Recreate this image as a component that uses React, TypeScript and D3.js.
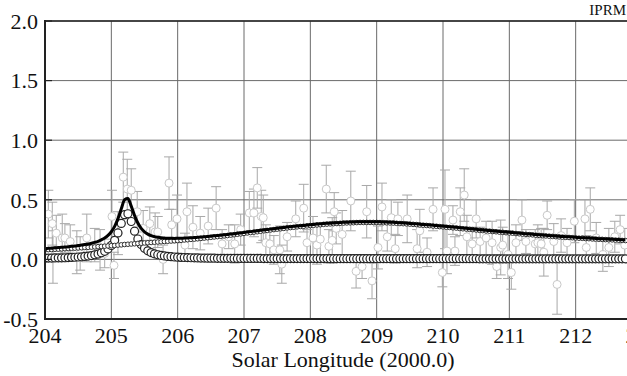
import React from "react";
import * as d3 from "d3";

// ---- data ----
const xTicks = [204, 205, 206, 207, 208, 209, 210, 211, 212, 213];
const yTicks = [-0.5, 0.0, 0.5, 1.0, 1.5, 2.0];
const yTickLabels = ["-0.5", "0.0", "0.5", "1.0", "1.5", "2.0"];

// model grid: 204.00 .. 212.75 step 0.05
const modelStart = 204.0;
const modelStep = 0.05;

// sharp (outburst) component
const sharpComp = [
  0.010, 0.011, 0.011, 0.012, 0.013, 0.013, 0.014, 0.015, 0.017, 0.018,
  0.020, 0.022, 0.025, 0.028, 0.032, 0.038, 0.045, 0.055, 0.068, 0.088,
  0.117, 0.160, 0.222, 0.302, 0.375, 0.383, 0.318, 0.237, 0.171, 0.124,
  0.093, 0.072, 0.057, 0.047, 0.039, 0.033, 0.029, 0.025, 0.023, 0.020,
  0.019, 0.017, 0.016, 0.015, 0.014, 0.013, 0.012, 0.011, 0.011, 0.010,
  0.010,
  0.010, 0.009, 0.009, 0.009, 0.009, 0.009, 0.008, 0.008, 0.008, 0.008,
  0.008, 0.008, 0.008, 0.008, 0.008, 0.007, 0.007, 0.007, 0.007, 0.007,
  0.007, 0.007, 0.007, 0.007, 0.007, 0.007, 0.007, 0.007, 0.007, 0.007,
  0.007, 0.007, 0.007, 0.007, 0.007, 0.006, 0.006, 0.006, 0.006, 0.006,
  0.006, 0.006, 0.006, 0.006, 0.006, 0.006, 0.006, 0.006, 0.006, 0.006,
  0.006, 0.006, 0.006, 0.006, 0.006, 0.006, 0.006, 0.006, 0.006, 0.006,
  0.006, 0.006, 0.006, 0.006, 0.006, 0.006, 0.006, 0.006, 0.006, 0.006,
  0.006, 0.006, 0.006, 0.006, 0.006, 0.006, 0.006, 0.006, 0.006, 0.006,
  0.005, 0.005, 0.005, 0.005, 0.005, 0.005, 0.005, 0.005, 0.005, 0.005,
  0.005, 0.005, 0.005, 0.005, 0.005, 0.005, 0.005, 0.005, 0.005, 0.005,
  0.005, 0.005, 0.005, 0.005, 0.005, 0.005, 0.005, 0.005, 0.005, 0.005,
  0.005, 0.005, 0.005, 0.005, 0.005, 0.005, 0.005, 0.005, 0.005, 0.005,
  0.005, 0.005, 0.005, 0.005, 0.005,
];

// broad (background) component
const broadComp = [
  0.080, 0.082, 0.083, 0.085, 0.086, 0.088, 0.090, 0.091, 0.093, 0.094,
  0.096, 0.098, 0.100, 0.101, 0.103, 0.105, 0.107, 0.109, 0.111, 0.113,
  0.115, 0.117, 0.120, 0.122, 0.125, 0.127, 0.129, 0.131, 0.134, 0.136,
  0.138, 0.140, 0.142, 0.144, 0.146, 0.148, 0.150, 0.152, 0.154, 0.156,
  0.158, 0.160, 0.163, 0.165, 0.168, 0.170, 0.173, 0.176, 0.179, 0.182,
  0.185, 0.188, 0.191, 0.194, 0.197, 0.200, 0.204, 0.207, 0.211, 0.214,
  0.218, 0.222, 0.225, 0.229, 0.232, 0.236, 0.240, 0.243, 0.247, 0.250,
  0.254, 0.257, 0.260, 0.264, 0.267, 0.270, 0.273, 0.276, 0.278, 0.281,
  0.284, 0.286, 0.289, 0.291, 0.294, 0.296, 0.298, 0.300, 0.301, 0.303,
  0.305, 0.306, 0.307, 0.308, 0.309, 0.310, 0.310, 0.310, 0.310, 0.310,
  0.310, 0.309, 0.308, 0.307, 0.306, 0.305, 0.303, 0.301, 0.300, 0.298,
  0.296, 0.294, 0.292, 0.289, 0.287, 0.285, 0.283, 0.280, 0.278, 0.275,
  0.273, 0.270, 0.268, 0.265, 0.263, 0.260, 0.257, 0.255, 0.252, 0.250,
  0.247, 0.244, 0.242, 0.239, 0.237, 0.234, 0.232, 0.229, 0.227, 0.224,
  0.222, 0.220, 0.217, 0.215, 0.212, 0.210, 0.208, 0.206, 0.203, 0.201,
  0.199, 0.197, 0.195, 0.193, 0.191, 0.189, 0.187, 0.185, 0.184, 0.182,
  0.180, 0.178, 0.177, 0.175, 0.174, 0.172, 0.171, 0.169, 0.168, 0.166,
  0.165, 0.164, 0.162, 0.161, 0.159, 0.158,
];

// observations with errors
const obsLon = [
  204.05, 204.11, 204.12, 204.17, 204.26, 204.30, 204.38, 204.48, 204.53, 204.63,
  204.75, 204.83, 204.90, 205.01, 205.04, 205.10, 205.18, 205.24, 205.30, 205.39,
  205.48, 205.58, 205.66, 205.70, 205.78, 205.87, 205.91, 205.99, 206.11, 206.14,
  206.23, 206.34, 206.46, 206.58, 206.67, 206.77, 206.86, 206.95, 207.08, 207.15,
  207.20, 207.26, 207.29, 207.33, 207.39, 207.45, 207.54, 207.57, 207.65, 207.78,
  207.90, 207.95, 208.04, 208.10, 208.15, 208.24, 208.28, 208.33, 208.36, 208.39,
  208.48, 208.61, 208.69, 208.78, 208.85, 208.93, 209.02, 209.08, 209.16, 209.22,
  209.28, 209.32, 209.46, 209.61, 209.65, 209.76, 209.85, 209.99, 210.03, 210.06,
  210.15, 210.18, 210.26, 210.32, 210.36, 210.44, 210.50, 210.56, 210.65, 210.74,
  210.81, 210.87, 210.90, 210.98, 211.03, 211.10, 211.19, 211.25, 211.39, 211.43,
  211.48, 211.52, 211.57, 211.67, 211.72, 211.78, 211.87, 211.98, 212.14, 212.16,
  212.22, 212.31, 212.41, 212.50, 212.59, 212.67, 212.74,
];
const obsVal = [
  0.38, 0.30, 0.02, 0.22, 0.18, 0.18, 0.15, 0.06, 0.05, 0.18,
  0.12, 0.08, 0.05, 0.36, -0.05, 0.22, 0.69, 0.59, 0.58, 0.40,
  0.26, 0.30, 0.23, 0.23, 0.00, 0.64, 0.29, 0.34, 0.12, 0.40,
  0.27, 0.22, 0.28, 0.43, 0.13, 0.19, 0.13, 0.25, 0.39, 0.39,
  0.60, 0.36, 0.35, 0.14, 0.13, 0.08, 0.08, -0.04, 0.19, 0.34,
  0.43, 0.14, 0.18, 0.12, 0.17, 0.59, 0.11, 0.16, 0.40, 0.26,
  0.21, 0.49, -0.10, -0.06, 0.40, -0.18, 0.10, 0.44, 0.19, 0.35,
  0.09, 0.34, 0.34, 0.09, 0.24, 0.06, 0.42, -0.11, 0.42, 0.07,
  0.33, 0.07, 0.40, 0.54, 0.19, 0.13, 0.34, 0.15, 0.18, 0.14,
  -0.06, 0.10, 0.12, 0.04, -0.11, 0.14, 0.33, 0.15, 0.13, 0.14,
  0.13, 0.06, 0.37, 0.15, -0.21, 0.20, 0.14, 0.32, 0.34, 0.10,
  0.42, 0.18, 0.04, 0.10, 0.19, 0.25, 0.12,
];
const obsErr = [
  0.20, 0.18, 0.22, 0.15, 0.20, 0.12, 0.14, 0.18, 0.14, 0.20,
  0.14, 0.17, 0.12, 0.22, 0.11, 0.18, 0.21, 0.25, 0.18, 0.17,
  0.15, 0.14, 0.16, 0.13, 0.12, 0.22, 0.13, 0.20, 0.10, 0.24,
  0.18, 0.14, 0.15, 0.18, 0.12, 0.10, 0.16, 0.13, 0.18, 0.20,
  0.17, 0.22, 0.19, 0.15, 0.12, 0.12, 0.20, 0.16, 0.12, 0.15,
  0.20, 0.11, 0.18, 0.16, 0.13, 0.20, 0.14, 0.19, 0.16, 0.13,
  0.20, 0.25, 0.14, 0.10, 0.22, 0.15, 0.18, 0.20, 0.12, 0.15,
  0.12, 0.14, 0.20, 0.16, 0.18, 0.12, 0.18, 0.12, 0.33, 0.19,
  0.12, 0.12, 0.20, 0.22, 0.18, 0.14, 0.16, 0.12, 0.14, 0.18,
  0.10, 0.23, 0.15, 0.20, 0.14, 0.15, 0.17, 0.10, 0.12, 0.15,
  0.13, 0.20, 0.12, 0.15, 0.25, 0.14, 0.12, 0.18, 0.16, 0.10,
  0.18, 0.13, 0.14, 0.16, 0.13, 0.12, 0.14,
];

const W = 627;
const H = 376;
const FONT = '"Liberation Serif", "DejaVu Serif", "Times New Roman", Times, serif';
const textStyle = { fontFamily: FONT } as React.CSSProperties;

export default function App() {
  const x = d3.scaleLinear().domain([204, 213]).range([45, 642]);
  const y = d3.scaleLinear().domain([-0.5, 2.0]).range([319, 21]);

  const modelLon = sharpComp.map((_, i) => modelStart + i * modelStep);
  const sumVals = sharpComp.map((v, i) => v + broadComp[i]);

  const line = d3
    .line<number>()
    .x((_, i) => x(modelLon[i]))
    .y((d) => y(d))
    .curve(d3.curveMonotoneX);

  const cap = 5;

  return (
    <div style={{ position: "fixed", left: 0, top: 0, width: W, height: H, background: "#fff" }}>
      <svg width={W} height={H} style={{ display: "block" }}>
        <defs>
          <clipPath id="plotClip">
            <rect x={45} y={21} width={W - 45} height={298} />
          </clipPath>
        </defs>
        {/* grid */}
        {xTicks.map((t) => (
          <line key={"gx" + t} x1={x(t)} x2={x(t)} y1={y(2)} y2={y(-0.5)} stroke="#6a6a6a" strokeWidth={1} />
        ))}
        {yTicks.map((t) => (
          <line key={"gy" + t} x1={x(204)} x2={W} y1={y(t)} y2={y(t)} stroke="#6a6a6a" strokeWidth={1} />
        ))}

        <g clipPath="url(#plotClip)">
          {/* observations with error bars */}
          {obsLon.map((lon, i) => {
            const cx = x(lon);
            const y1 = y(obsVal[i] + obsErr[i]);
            const y2 = y(obsVal[i] - obsErr[i]);
            return (
              <g key={"e" + i} stroke="#a8a8a8" strokeWidth={1}>
                <line x1={cx} x2={cx} y1={y1} y2={y2} />
                <line x1={cx - cap} x2={cx + cap} y1={y1} y2={y1} />
                <line x1={cx - cap} x2={cx + cap} y1={y2} y2={y2} />
              </g>
            );
          })}
          {obsLon.map((lon, i) => (
            <circle key={"o" + i} cx={x(lon)} cy={y(obsVal[i])} r={4} fill="#fff" stroke="#c8c8c8" strokeWidth={1} />
          ))}

          {/* sharp component: large open circles */}
          {sharpComp.map((v, i) => (
            <circle key={"s" + i} cx={x(modelLon[i])} cy={y(v)} r={4} fill="#fff" stroke="#222" strokeWidth={1.2} />
          ))}
          {/* broad component: small open markers */}
          {broadComp.map((v, i) => (
            <circle key={"b" + i} cx={x(modelLon[i])} cy={y(v)} r={2.3} fill="#fff" stroke="#333" strokeWidth={1} />
          ))}
          {/* total model */}
          <path d={line(sumVals) || ""} fill="none" stroke="#000" strokeWidth={3} />
        </g>

        {/* frame */}
        <line x1={45} x2={W} y1={21} y2={21} stroke="#222" strokeWidth={1.6} />
        <line x1={45} x2={W} y1={319} y2={319} stroke="#222" strokeWidth={2} />
        <line x1={45} x2={45} y1={20} y2={320} stroke="#222" strokeWidth={2} />
        {yTicks.map((t) => (
          <line key={"ty" + t} x1={45} x2={52} y1={y(t)} y2={y(t)} stroke="#222" strokeWidth={1.2} />
        ))}

        {/* tick labels */}
        {yTicks.map((t, i) => (
          <text key={"ly" + t} x={38} y={y(t)} dy="0.35em" textAnchor="end" fontSize={22} fill="#111" style={textStyle}>
            {yTickLabels[i]}
          </text>
        ))}
        {xTicks.map((t) => (
          <text key={"lx" + t} x={x(t)} y={343} textAnchor="middle" fontSize={22} fill="#111" style={textStyle}>
            {t}
          </text>
        ))}
        <text x={343} y={367} textAnchor="middle" fontSize={22} fill="#111" style={textStyle}>
          Solar Longitude (2000.0)
        </text>
        <text x={626} y={15} textAnchor="end" fontSize={15} fill="#111" style={textStyle}>
          IPRM
        </text>
      </svg>
    </div>
  );
}
